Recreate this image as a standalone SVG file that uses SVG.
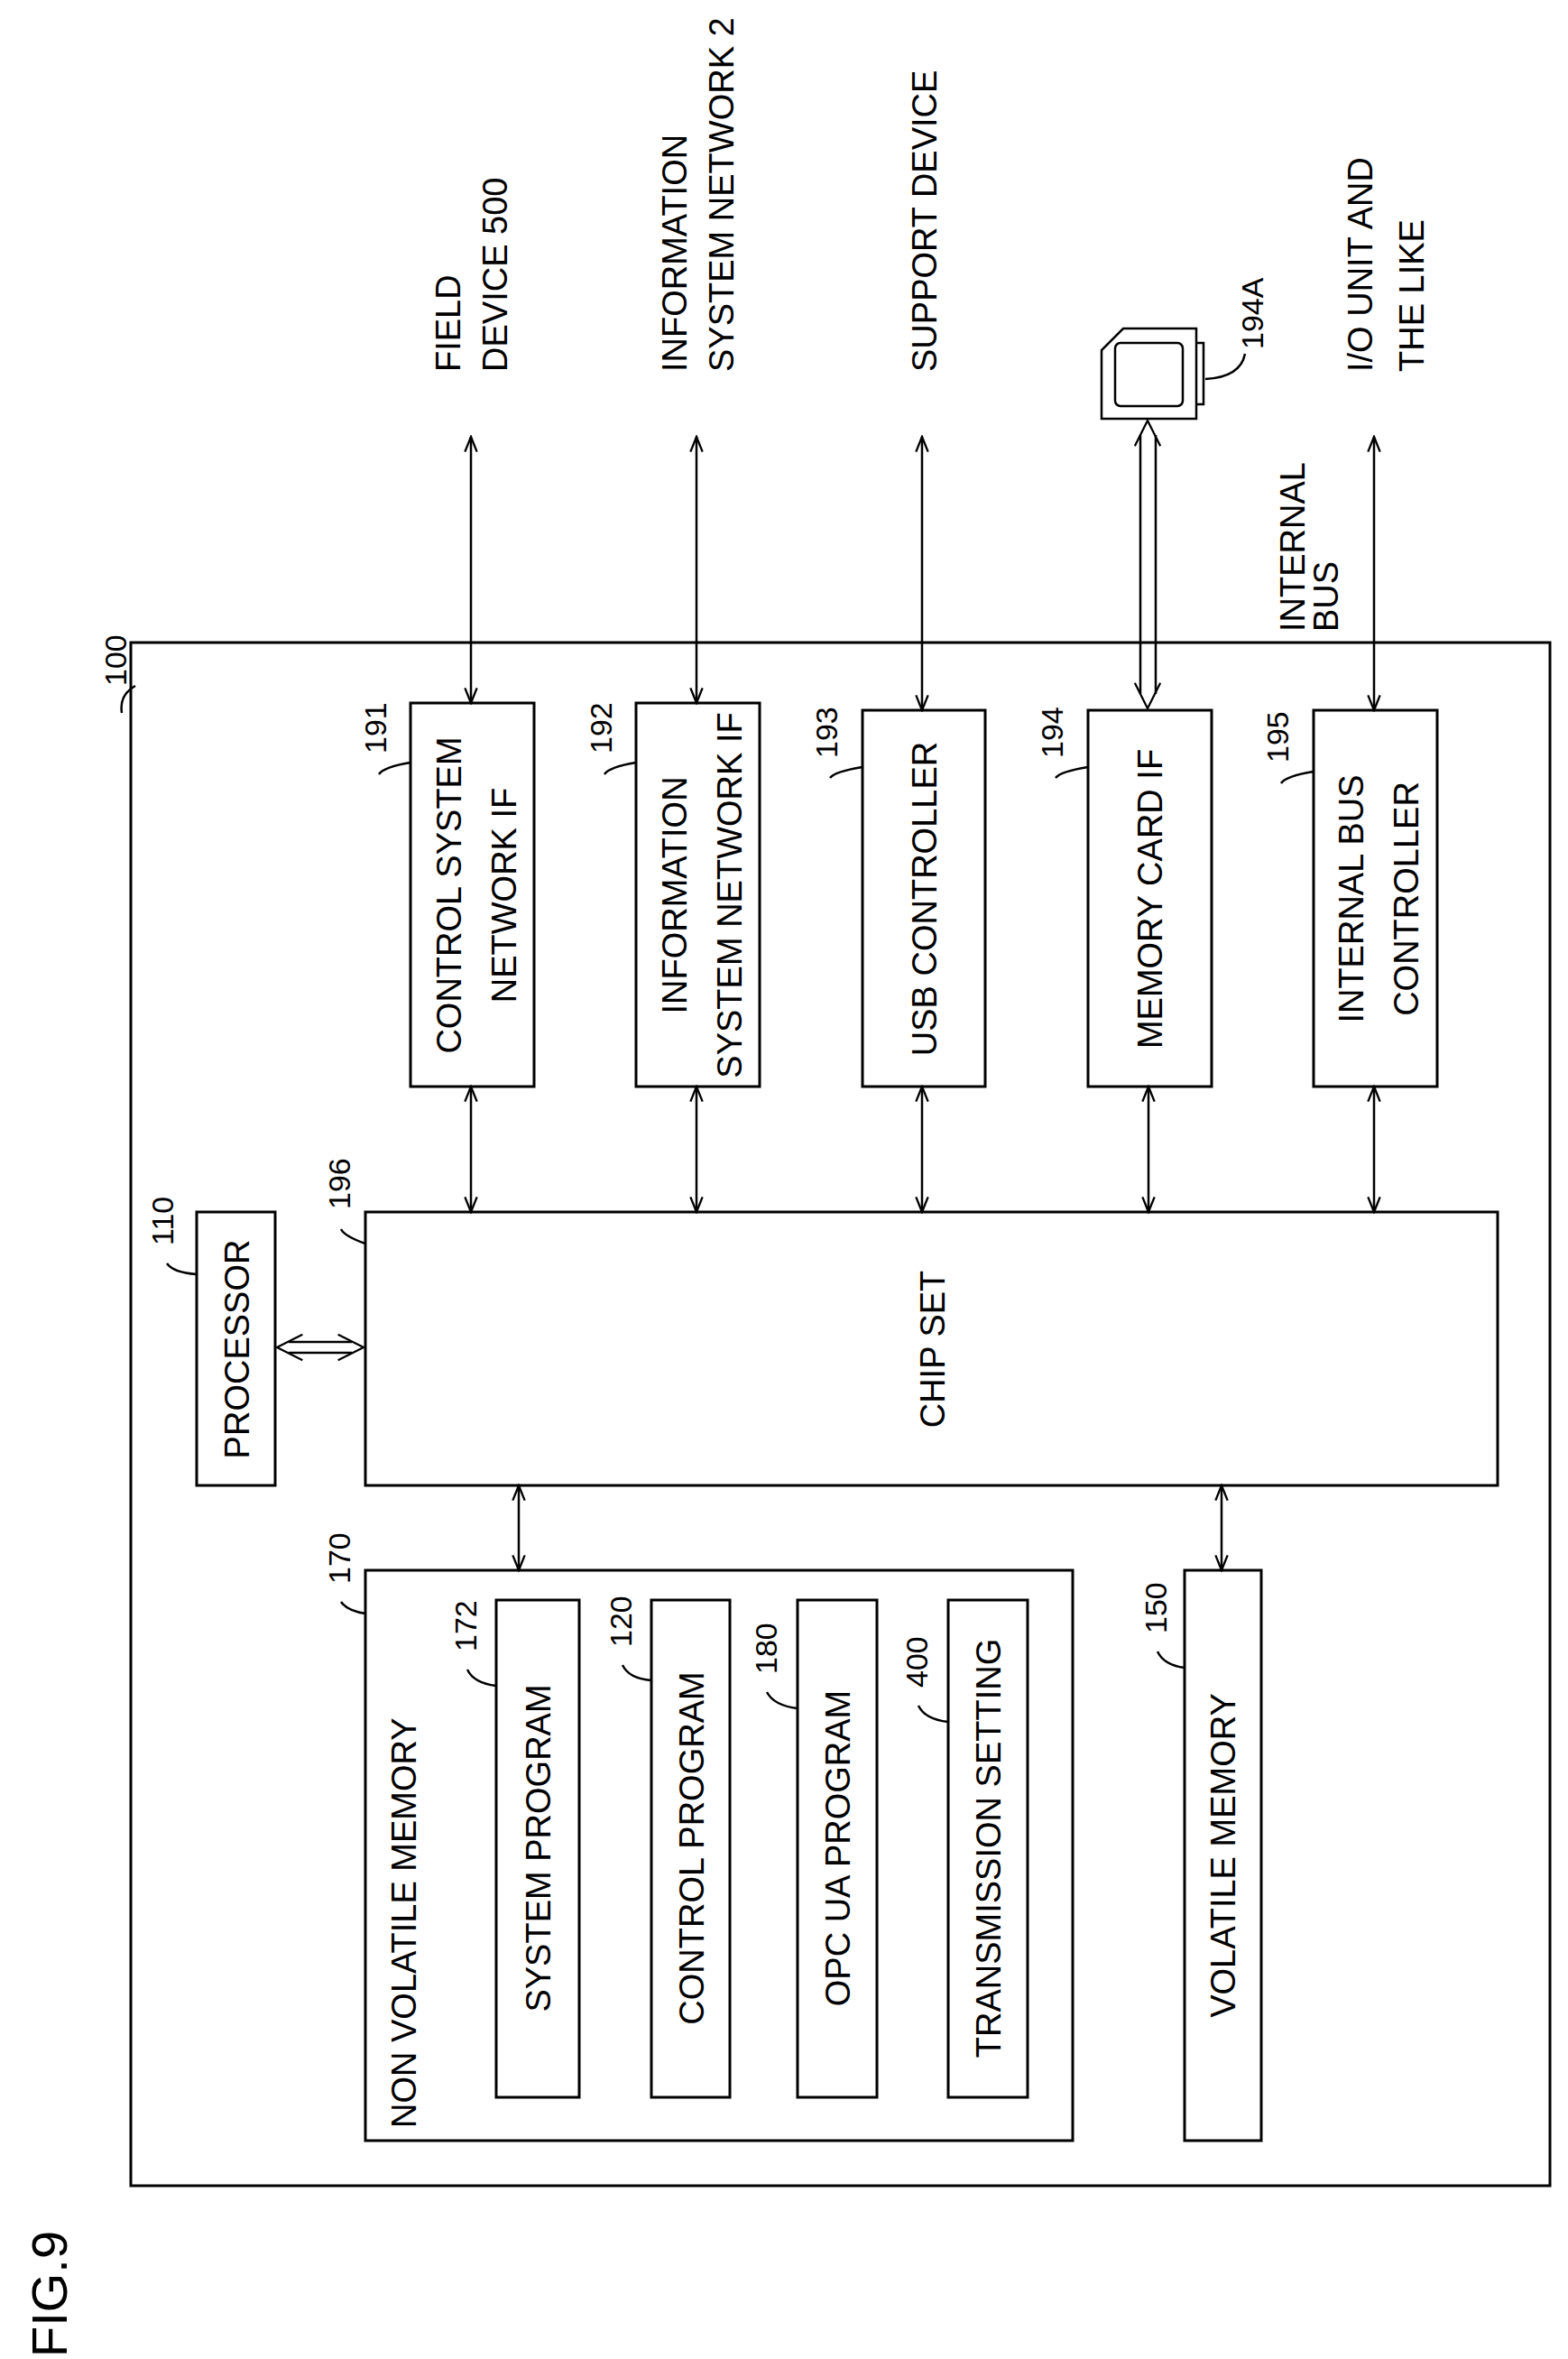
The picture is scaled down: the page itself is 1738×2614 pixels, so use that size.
<svg xmlns="http://www.w3.org/2000/svg" width="1738" height="2614" viewBox="0 0 1738 2614">
<style>
rect{fill:none;stroke:#000;stroke-width:3}
text{font-family:"Liberation Sans",Arial,sans-serif;font-size:38px;fill:#000}
.n{font-size:34px}
.c{text-anchor:middle}
.l{fill:none;stroke:#000;stroke-width:2.5}
.a{fill:none;stroke:#000;stroke-width:2.5;marker-start:url(#ah);marker-end:url(#ah)}
</style>
<defs>
<marker id="ah" viewBox="0 0 12 12" refX="11" refY="6" markerWidth="20" markerHeight="20" markerUnits="userSpaceOnUse" orient="auto-start-reverse"><path d="M1,2 L11,6 L1,10" fill="none" stroke="#000" stroke-width="1.4"/></marker>
<marker id="ah2" viewBox="0 0 12 12" refX="11" refY="6" markerWidth="34" markerHeight="34" markerUnits="userSpaceOnUse" orient="auto-start-reverse"><path d="M1,1 L11,6 L1,11" fill="none" stroke="#000" stroke-width="0.8"/></marker>
</defs>
<rect x="145" y="712" width="1573" height="1710"/>
<path class="l" d="M135,790 Q132,770 150,760"/>
<text class="n" transform="translate(140,760) rotate(-90)">100</text>
<g id="n191"><rect x="455" y="779" width="137" height="425"/>
<text class="c" transform="translate(511,992) rotate(-90)">CONTROL SYSTEM</text>
<text class="c" transform="translate(572,992) rotate(-90)">NETWORK IF</text>
<text class="n" transform="translate(428,835) rotate(-90)">191</text>
<path class="l" d="M420,858 Q425,850 455,845"/></g>
<g id="n192"><rect x="705" y="779" width="137" height="425"/>
<text class="c" transform="translate(761,992) rotate(-90)">INFORMATION</text>
<text class="c" transform="translate(822,992) rotate(-90)">SYSTEM NETWORK IF</text>
<text class="n" transform="translate(678,835) rotate(-90)">192</text>
<path class="l" d="M670,858 Q675,850 705,845"/></g>
<g id="n193"><rect x="956" y="787" width="136" height="417"/>
<text class="c" transform="translate(1038,996) rotate(-90)">USB CONTROLLER</text>
<text class="n" transform="translate(928,840) rotate(-90)">193</text>
<path class="l" d="M920,862 Q925,855 956,850"/></g>
<g id="n194"><rect x="1206" y="787" width="137" height="417"/>
<text class="c" transform="translate(1288,996) rotate(-90)">MEMORY CARD IF</text>
<text class="n" transform="translate(1178,840) rotate(-90)">194</text>
<path class="l" d="M1170,862 Q1175,855 1206,850"/></g>
<g id="n195"><rect x="1456" y="787" width="137" height="417"/>
<text class="c" transform="translate(1511,996) rotate(-90)">INTERNAL BUS</text>
<text class="c" transform="translate(1572,996) rotate(-90)">CONTROLLER</text>
<text class="n" transform="translate(1428,845) rotate(-90)">195</text>
<path class="l" d="M1420,868 Q1425,860 1456,855"/></g>
<g id="n196"><rect x="405" y="1343" width="1255" height="303"/>
<text class="c" transform="translate(1047,1495) rotate(-90)">CHIP SET</text>
<text class="n" transform="translate(388,1340) rotate(-90)">196</text>
<path class="l" d="M378,1362 Q382,1370 405,1378"/></g>
<g id="n110"><rect x="218" y="1343" width="87" height="303"/>
<text class="c" transform="translate(276,1495) rotate(-90)">PROCESSOR</text>
<text class="n" transform="translate(192,1380) rotate(-90)">110</text>
<path class="l" d="M185,1400 Q192,1410 218,1412"/></g>
<g id="n170"><rect x="405" y="1740" width="784" height="632"/>
<text transform="translate(461,2358) rotate(-90)">NON VOLATILE MEMORY</text>
<text class="n" transform="translate(388,1755) rotate(-90)">170</text>
<path class="l" d="M378,1775 Q385,1785 405,1788"/></g>
<g id="n172"><rect x="550" y="1773" width="92" height="551"/>
<text class="c" transform="translate(610,2048) rotate(-90)">SYSTEM PROGRAM</text>
<text class="n" transform="translate(528,1830) rotate(-90)">172</text>
<path class="l" d="M518,1850 Q525,1865 550,1868"/></g>
<g id="n120"><rect x="722" y="1773" width="87" height="551"/>
<text class="c" transform="translate(780,2048) rotate(-90)">CONTROL PROGRAM</text>
<text class="n" transform="translate(700,1825) rotate(-90)">120</text>
<path class="l" d="M690,1845 Q697,1860 722,1862"/></g>
<g id="n180"><rect x="884" y="1773" width="88" height="551"/>
<text class="c" transform="translate(942,2048) rotate(-90)">OPC UA PROGRAM</text>
<text class="n" transform="translate(861,1855) rotate(-90)">180</text>
<path class="l" d="M850,1875 Q858,1890 884,1893"/></g>
<g id="n400"><rect x="1051" y="1773" width="88" height="551"/>
<text class="c" transform="translate(1109,2048) rotate(-90)">TRANSMISSION SETTING</text>
<text class="n" transform="translate(1028,1870) rotate(-90)">400</text>
<path class="l" d="M1018,1890 Q1025,1905 1051,1908"/></g>
<g id="n150"><rect x="1313" y="1740" width="85" height="632"/>
<text class="c" transform="translate(1369,2056) rotate(-90)">VOLATILE MEMORY</text>
<text class="n" transform="translate(1293,1810) rotate(-90)">150</text>
<path class="l" d="M1283,1830 Q1290,1845 1313,1848"/></g>
<g id="card194A">
<path class="l" d="M1245,364 L1326,364 L1326,464 L1221,464 L1221,388 Z"/>
<rect x="1236" y="380" width="75" height="70" rx="6" style="stroke-width:2.5"/>
<path class="l" d="M1326,380 L1334,380 L1334,448 L1326,448"/>
<text class="n" transform="translate(1400,387) rotate(-90)">194A</text>
<path class="l" d="M1336,420 Q1375,418 1380,392"/>
</g>
<g id="ext">
<text transform="translate(510,412) rotate(-90)">FIELD</text>
<text transform="translate(562,412) rotate(-90)">DEVICE 500</text>
<text transform="translate(761,412) rotate(-90)">INFORMATION</text>
<text transform="translate(813,412) rotate(-90)">SYSTEM NETWORK 2</text>
<text transform="translate(1038,412) rotate(-90)">SUPPORT DEVICE</text>
<text transform="translate(1521,412) rotate(-90)">I/O UNIT AND</text>
<text transform="translate(1578,412) rotate(-90)">THE LIKE</text>
<text transform="translate(1446,700) rotate(-90)">INTERNAL</text>
<text transform="translate(1483,700) rotate(-90)">BUS</text>
<text style="font-size:56px" transform="translate(74,2612) rotate(-90)">FIG.9</text>
</g>
<g id="connectors">
<path class="a" d="M522,484 V779"/>
<path class="a" d="M772,484 V779"/>
<path class="a" d="M1022,484 V787"/>
<path class="a" d="M1523,484 V787"/>
<path class="l" d="M1264,482 V769 M1281,482 V769"/>
<path d="M1272,466 V785" fill="none" stroke="none" marker-start="url(#ah2)" marker-end="url(#ah2)"/>
<path class="a" d="M522,1204 V1343"/>
<path class="a" d="M772,1204 V1343"/>
<path class="a" d="M1022,1204 V1343"/>
<path class="a" d="M1273,1204 V1343"/>
<path class="a" d="M1523,1204 V1343"/>
<path class="l" d="M320,1487 H390 M320,1499 H390"/>
<path d="M307,1493 H403" fill="none" stroke="none" marker-start="url(#ah2)" marker-end="url(#ah2)"/>
<path class="a" d="M575,1646 V1740"/>
<path class="a" d="M1354,1646 V1740"/>
</g>
</svg>
